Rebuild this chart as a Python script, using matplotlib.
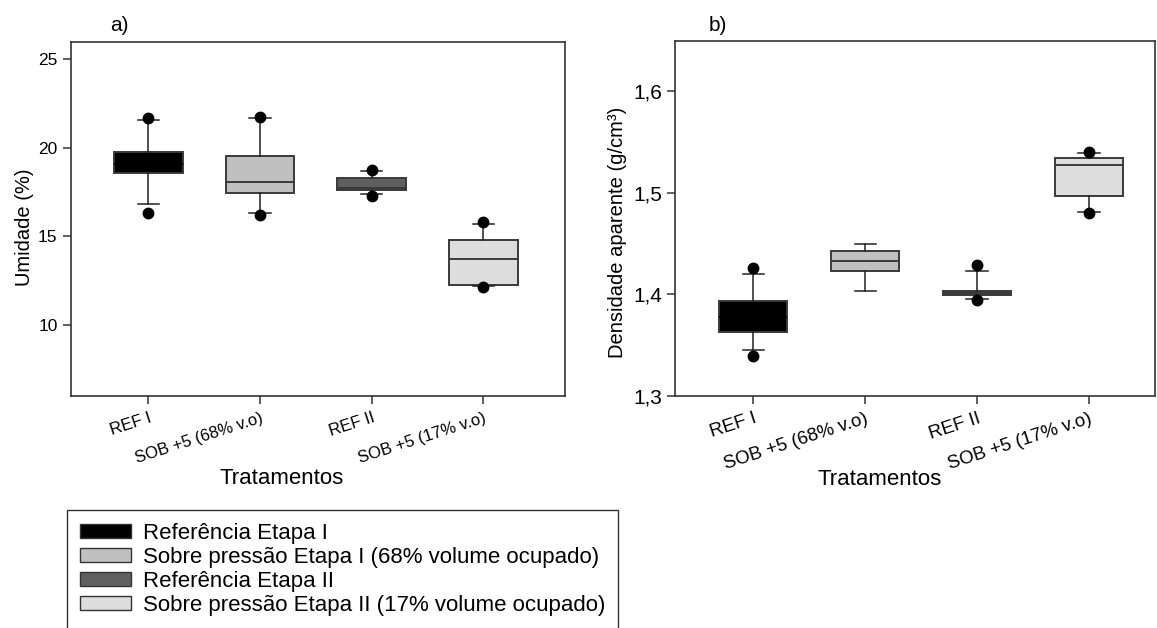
import matplotlib
matplotlib.use("Agg")
import matplotlib.pyplot as plt
from matplotlib.patches import Patch

plt.rcParams['font.family'] = ['Liberation Sans', 'DejaVu Sans']

categories = ["REF I", "SOB +5 (68% v.o)", "REF II", "SOB +5 (17% v.o)"]
legend_labels = ["Referência Etapa I",
                 "Sobre pressão Etapa I (68% volume ocupado)",
                 "Referência Etapa II",
                 "Sobre pressão Etapa II (17% volume ocupado)"]
fill_colors = ["#000000", "#c0c0c0", "#5f5f5f", "#dddddd"]

# Moisture (%) box statistics
umid_whislo = [16.84, 16.30, 17.39, 12.22]
umid_q1 = [18.60, 17.48, 17.60, 12.27]
umid_med = [19.10, 18.08, 17.74, 13.74]
umid_q3 = [19.75, 19.55, 18.30, 14.81]
umid_whishi = [21.60, 21.70, 18.70, 15.69]
umid_fliers = [[21.70, 16.30], [21.75, 16.20], [18.74, 17.29], [15.82, 12.14]]

# Bulk density (g/cm3) box statistics
dens_whislo = [1.3447, 1.4037, 1.3954, 1.4816]
dens_q1 = [1.3629, 1.4227, 1.3990, 1.4968]
dens_med = [1.3780, 1.4326, 1.4014, 1.5270]
dens_q3 = [1.3938, 1.4425, 1.4030, 1.5343]
dens_whishi = [1.4195, 1.4497, 1.4227, 1.5396]
dens_fliers = [[1.4257, 1.3395], [], [1.4286, 1.3948], [1.5402, 1.4803]]

W, H = 1157, 628


def make_stats(wlo, q1, med, q3, whi, fl):
    return [dict(whislo=a, q1=b, med=c, q3=d, whishi=e, fliers=f, label=n)
            for a, b, c, d, e, f, n in zip(wlo, q1, med, q3, whi, fl, categories)]


def draw_panel(ax, stats, width, capw):
    pos = list(range(1, len(stats) + 1))
    res = ax.bxp(stats, positions=pos, widths=width, capwidths=capw,
                 patch_artist=True, showfliers=True,
                 boxprops=dict(edgecolor="#3a3a3a", linewidth=1.4),
                 medianprops=dict(color="#3a3a3a", linewidth=1.4),
                 whiskerprops=dict(color="#222222", linewidth=1.1),
                 capprops=dict(color="#222222", linewidth=1.1),
                 flierprops=dict(marker="o", markerfacecolor="black",
                                 markeredgecolor="black", markersize=7.5))
    for patch, med, c in zip(res["boxes"], res["medians"], fill_colors):
        patch.set_facecolor(c)
        if c == "#000000":
            med.set_color(c)
    for s in ax.spines.values():
        s.set_linewidth(1.2)
        s.set_color("#333333")
    ax.tick_params(direction="out", length=6, width=1.1, color="#333333",
                   top=False, right=False)
    ax.tick_params(axis="x", pad=4.5)
    return pos


def fig_rect(x0, y0, x1, y1):
    return [x0 / W, 1 - y1 / H, (x1 - x0) / W, (y1 - y0) / H]


fig = plt.figure(figsize=(W / 100, H / 100), dpi=100)

# Panel a: moisture
ax1 = fig.add_axes(fig_rect(70.7, 41.7, 565, 395.7))
pos = draw_panel(ax1, make_stats(umid_whislo, umid_q1, umid_med, umid_q3,
                                 umid_whishi, umid_fliers), 0.615, 0.19)
ax1.set_xlim(0.305, 4.73)
ax1.set_ylim(6, 26)
ax1.set_yticks([10, 15, 20, 25])
ax1.tick_params(axis="y", labelsize=12.5)
ax1.set_xticks(pos)
ax1.set_xticklabels(categories, rotation=18, ha="right",
                    rotation_mode="anchor", fontsize=12)
ax1.set_ylabel("Umidade (%)", fontsize=14.5)
ax1.yaxis.set_label_coords(-0.075, 0.475)
ax1.set_xlabel("Tratamentos", fontsize=16, va="center")
ax1.xaxis.set_label_coords(0.4275, -0.235)
ax1.text(0.0795, 1.047, "a)", transform=ax1.transAxes, fontsize=15,
         ha="left", va="center")

# Panel b: bulk density
ax2 = fig.add_axes(fig_rect(675, 40.7, 1155, 395.7))
pos = draw_panel(ax2, make_stats(dens_whislo, dens_q1, dens_med, dens_q3,
                                 dens_whishi, dens_fliers), 0.61, 0.19)
ax2.set_xlim(0.3, 4.59)
ax2.set_ylim(1.3, 1.65)
ax2.set_yticks([1.3, 1.4, 1.5, 1.6])
ax2.set_yticklabels(["1,3", "1,4", "1,5", "1,6"])
ax2.tick_params(axis="y", labelsize=15)
ax2.set_xticks(pos)
ax2.set_xticklabels(categories, rotation=18, ha="right",
                    rotation_mode="anchor", fontsize=13.5)
ax2.set_ylabel("Densidade aparente (g/cm³)", fontsize=14.5)
ax2.yaxis.set_label_coords(-0.1006, 0.46)
ax2.set_xlabel("Tratamentos", fontsize=16, va="center")
ax2.xaxis.set_label_coords(0.427, -0.235)
ax2.text(0.071, 1.044, "b)", transform=ax2.transAxes, fontsize=15,
         ha="left", va="center")

handles = [Patch(facecolor=c, edgecolor="#333333", linewidth=1.0)
           for c in fill_colors]
fig.legend(handles, legend_labels, loc="upper left",
           bbox_to_anchor=(67 / W, 1 - 509.5 / H),
           bbox_transform=fig.transFigure, fontsize=16,
           frameon=True, fancybox=False, edgecolor="#333333", framealpha=1,
           borderpad=0.6, handlelength=2.3, handleheight=0.6,
           handletextpad=0.5, labelspacing=0.14, borderaxespad=0)

fig.savefig("out.png", dpi=100)
